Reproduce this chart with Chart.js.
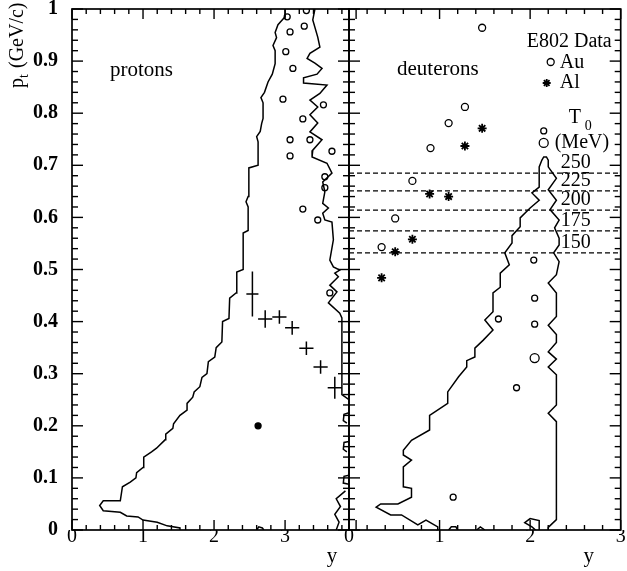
<!DOCTYPE html>
<html>
<head>
<meta charset="utf-8">
<script src="https://cdn.jsdelivr.net/npm/chart.js@4.4.1/dist/chart.umd.min.js"></script>
<style>
html, body { margin: 0; padding: 0; background: #fff; }
#wrap { position: relative; width: 627px; height: 571px; }
#wrap canvas { position: absolute; left: 0; top: 0; }
</style>
</head>
<body>
<div id="wrap">
  <canvas id="left" width="627" height="571"></canvas>
  <canvas id="right" width="627" height="571"></canvas>
</div>
<script>
// eixos
const ptTicks = [0, 0.1, 0.2, 0.3, 0.4, 0.5, 0.6, 0.7, 0.8, 0.9, 1];
const protonXTicks = [0, 1, 2, 3];
const deutXTicks = [0, 1, 2, 3];

// protons: contorno (lado esquerdo, de baixo para cima)
const protonEdgeLeft = [
  [1.52,0],[1.52,0.004],[1.34,0.008],[1.2,0.015],[1.0,0.019],[0.93,0.025],[0.77,0.027],
  [0.68,0.034],[0.44,0.037],[0.39,0.047],[0.44,0.056],[0.68,0.056],[0.71,0.083],[0.82,0.092],
  [0.9,0.1],[0.91,0.11],[1.0,0.12],[1.01,0.14],[1.12,0.15],[1.19,0.157],[1.31,0.173],
  [1.32,0.184],[1.42,0.195],[1.43,0.204],[1.52,0.22],[1.62,0.23],[1.62,0.243],[1.7,0.255],
  [1.72,0.265],[1.8,0.275],[1.83,0.293],[1.9,0.3],[1.92,0.323],[2.01,0.332],[2.03,0.35],
  [2.11,0.361],[2.12,0.4],[2.21,0.406],[2.22,0.445],[2.31,0.455],[2.32,0.495],[2.41,0.5],
  [2.41,0.57],[2.48,0.575],[2.48,0.62],[2.45,0.63],[2.48,0.64],[2.49,0.695],[2.62,0.7],
  [2.62,0.745],[2.6,0.755],[2.65,0.765],[2.67,0.78],[2.69,0.79],[2.69,0.82],[2.66,0.83],
  [2.71,0.84],[2.76,0.86],[2.82,0.875],[2.86,0.895],[2.86,0.92],[2.83,0.93],[2.88,0.945],
  [2.86,0.955],[2.9,0.97],[3.0,0.985],[3.0,1.0]
];
// protons: contorno (lado direito, de cima para baixo)
const protonEdgeRight = [
  [3.42,1.0],[3.39,0.979],[3.46,0.946],[3.49,0.927],[3.35,0.915],[3.31,0.905],[3.42,0.896],
  [3.52,0.886],[3.45,0.875],[3.26,0.868],[3.26,0.858],[3.59,0.854],[3.49,0.838],[3.35,0.825],
  [3.46,0.812],[3.35,0.797],[3.46,0.781],[3.35,0.764],[3.52,0.749],[3.39,0.729],[3.38,0.716],
  [3.59,0.704],[3.66,0.685],[3.53,0.668],[3.56,0.649],[3.53,0.627],[3.61,0.618],[3.53,0.608],
  [3.56,0.595],[3.66,0.591],[3.68,0.557],[3.63,0.518],[3.68,0.505],[3.77,0.499],[3.7,0.493],
  [3.75,0.486],[3.63,0.47],[3.73,0.457],[3.61,0.436],[3.77,0.416],[3.8,0.407],[3.8,0.26],[3.9,0.25]
];
// pedaços soltos do contorno perto do eixo (null = quebra)
const protonEdgeBits = [
  [3.9,0.225],[3.83,0.222],[3.82,0.21],[3.87,0.205], null,
  [3.9,0.17],[3.83,0.168],[3.82,0.155],[3.87,0.15], null,
  [3.9,0.105],[3.83,0.103],[3.82,0.09],[3.9,0.088], null,
  [3.85,0.075],[3.72,0.06],[3.78,0.045],[3.7,0.03],[3.76,0.015],[3.72,0], null,
  [2.6,0],[2.63,0.006],[2.68,0.004],[2.7,0]
];
const protonIslands = [
  [3.3,0.997],[3.03,0.985],[3.07,0.956],[3.27,0.967],[3.01,0.918],[3.11,0.886],[2.97,0.827],
  [3.25,0.789],[3.54,0.816],[3.07,0.749],[3.35,0.749],[3.07,0.718],[3.66,0.727],[3.56,0.678],
  [3.56,0.657],[3.25,0.616],[3.46,0.595],[3.63,0.455]
];
// dados de protons (cruzes com barras de erro)
const protonRap = [2.54, 2.72, 2.92, 3.1, 3.3, 3.5, 3.7];
const protonPt = [0.453, 0.405, 0.409, 0.388, 0.349, 0.313, 0.273];
const protonRapErr = [0.085, 0.1, 0.1, 0.1, 0.1, 0.1, 0.1];
const protonPtErr = [0.043, 0.017, 0.013, 0.013, 0.013, 0.013, 0.021];
const protonDot = [[2.62, 0.2]];

// deuterons: contorno
const deutEdge = [
  [0.98,0],[0.98,0.006],[0.85,0.019],[0.76,0.01],[0.58,0.029],[0.46,0.029],[0.3,0.044],
  [0.35,0.05],[0.54,0.05],[0.69,0.063],[0.69,0.08],[0.6,0.083],[0.6,0.121],[0.69,0.134],
  [0.6,0.144],[0.6,0.153],[0.69,0.172],[0.89,0.192],[0.89,0.22],[1.09,0.243],[1.09,0.265],
  [1.21,0.294],[1.3,0.313],[1.3,0.325],[1.39,0.332],[1.39,0.349],[1.48,0.364],[1.59,0.384],
  [1.5,0.403],[1.59,0.419],[1.59,0.455],[1.67,0.466],[1.67,0.493],[1.77,0.509],[1.72,0.532],
  [1.8,0.551],[1.8,0.565],[1.89,0.582],[1.89,0.599],[2.0,0.618],[2.1,0.633],[2.02,0.647],
  [2.1,0.658],[2.1,0.697],[2.13,0.71],[2.15,0.716],[2.18,0.716],[2.2,0.71],[2.2,0.697],
  [2.29,0.675],[2.2,0.653],[2.29,0.633],[2.22,0.615],[2.32,0.595],[2.27,0.58],[2.32,0.56],
  [2.32,0.547],[2.26,0.532],[2.32,0.515],[2.29,0.49],[2.2,0.474],[2.29,0.455],[2.29,0.41],
  [2.2,0.393],[2.29,0.375],[2.29,0.36],[2.2,0.342],[2.29,0.328],[2.2,0.313],[2.29,0.298],
  [2.29,0.24],[2.2,0.224],[2.29,0.208],[2.29,0.02],[2.2,0.005],[2.2,0]
];
const deutEdgeBits = [
  [1.1,0],[1.13,0.006],[1.18,0.006],[1.2,0], null,
  [1.41,0],[1.45,0.006],[1.5,0], null,
  [2.1,0],[2.1,0.018],[2.0,0.022],[1.94,0.014],[2.02,0.006],[2.06,0]
];
const deutIslands = [
  [2.15,0.766],[2.04,0.518],[2.05,0.445],[1.65,0.405],[2.05,0.395],[1.85,0.273],[1.15,0.063]
];
const deutIslandsBig = [[2.15,0.743],[2.05,0.33]];

// E802: Au e Al
const auRap = [0.36, 0.51, 0.7, 0.9, 1.1, 1.28, 1.47];
const auPt = [0.543, 0.598, 0.67, 0.733, 0.781, 0.812, 0.964];
const alRap = [0.36, 0.51, 0.7, 0.89, 1.1, 1.28, 1.47];
const alPt = [0.484, 0.534, 0.558, 0.645, 0.64, 0.737, 0.771];

// T0 (MeV) e pt correspondente das linhas tracejadas
const t0Labels = ['250', '225', '200', '175', '150'];
const t0Pt = [0.685, 0.651, 0.614, 0.574, 0.532];

const FONT = '"Liberation Serif", "Times New Roman", serif';
Chart.defaults.font.family = FONT;
Chart.defaults.color = '#000';

const toPts = arr => arr.map(p => p ? { x: p[0], y: p[1] } : { x: null, y: null });
const pairs = (xs, ys) => xs.map((v, i) => ({ x: v, y: ys[i] }));

function lineSet(data, extra) {
  return Object.assign({ data: data, showLine: true, pointRadius: 0, borderColor: '#000',
    borderWidth: 1.5, tension: 0, spanGaps: false }, extra || {});
}
function markSet(data, extra) {
  return Object.assign({ data: data, showLine: false, pointStyle: 'circle', pointRadius: 3,
    pointBorderColor: '#000', pointBackgroundColor: 'rgba(0,0,0,0)', pointBorderWidth: 1.3 }, extra || {});
}

// moldura e marcas de escala para dentro
const frameTicks = {
  id: 'frameTicks',
  afterDraw(chart) {
    const ctx = chart.ctx;
    const a = chart.chartArea;
    const sx = chart.scales.x, sy = chart.scales.y;
    const L = a.left, R = a.right, T = a.top, B = a.bottom;
    ctx.save();
    ctx.strokeStyle = '#000';
    ctx.lineWidth = 1.4;
    const seg = (x1, y1, x2, y2) => {
      ctx.beginPath();
      ctx.moveTo(x1, y1);
      ctx.lineTo(x2, y2);
      ctx.stroke();
    };
    const nx = Math.round(sx.max / 0.2);
    for (let i = 0; i <= nx; i++) {
      const px = sx.getPixelForValue(i * 0.2);
      const len = (i % 5 === 0) ? 10 : 5;
      seg(px, B, px, B - len);
      seg(px, T, px, T + len);
    }
    for (let j = 0; j <= 50; j++) {
      const py = sy.getPixelForValue(j * 0.02);
      const len = (j % 5 === 0) ? 11 : 6;
      seg(L, py, L + len, py);
      seg(R, py, R - len, py);
    }
    ctx.lineWidth = 1.7;
    ctx.strokeRect(L, T, R - L, B - T);
    ctx.restore();
  }
};

const protonDecor = {
  id: 'protonDecor',
  afterDatasetsDraw(chart) {
    const { ctx, chartArea: a, scales: { x, y } } = chart;
    ctx.save();
    ctx.strokeStyle = '#000';
    ctx.lineWidth = 1.5;
    ctx.beginPath();
    protonRap.forEach((r, i) => {
      const cx = x.getPixelForValue(r), cy = y.getPixelForValue(protonPt[i]);
      ctx.moveTo(x.getPixelForValue(r - protonRapErr[i]), cy);
      ctx.lineTo(x.getPixelForValue(r + protonRapErr[i]), cy);
      ctx.moveTo(cx, y.getPixelForValue(protonPt[i] - protonPtErr[i]));
      ctx.lineTo(cx, y.getPixelForValue(protonPt[i] + protonPtErr[i]));
    });
    ctx.stroke();

    ctx.fillStyle = '#000';
    ctx.font = '21px ' + FONT;
    ctx.textAlign = 'left';
    ctx.textBaseline = 'middle';
    ctx.fillText('protons', a.left + 38, a.top + 61);

    ctx.textAlign = 'center';
    ctx.textBaseline = 'alphabetic';
    ctx.fillText('y', a.right - 17, 562);

    // titulo do eixo y: p_t (GeV/c)
    ctx.translate(23, 88);
    ctx.rotate(-Math.PI / 2);
    ctx.textAlign = 'left';
    ctx.font = '20px ' + FONT;
    ctx.fillText('p', 0, 0);
    ctx.font = '14px ' + FONT;
    ctx.fillText('t', 10, 5);
    ctx.font = '20px ' + FONT;
    ctx.fillText('(GeV/c)', 20, 0);
    ctx.restore();
  }
};

const deutDecor = {
  id: 'deutDecor',
  afterDatasetsDraw(chart) {
    const { ctx, chartArea: a, scales: { x, y } } = chart;
    const R = a.right;
    ctx.save();
    ctx.fillStyle = '#000';
    ctx.strokeStyle = '#000';
    ctx.font = '21px ' + FONT;
    ctx.textBaseline = 'middle';
    ctx.textAlign = 'left';
    ctx.fillText('deuterons', a.left + 48, a.top + 60);

    ctx.font = '20px ' + FONT;
    ctx.textAlign = 'right';
    ctx.fillText('E802 Data', R - 9, 42);
    ctx.textAlign = 'left';
    ctx.fillText('Au', R - 61, 63);
    ctx.fillText('Al', R - 61, 83);
    ctx.lineWidth = 1.3;
    ctx.beginPath();
    ctx.arc(R - 70, 62, 3.5, 0, Math.PI * 2);
    ctx.stroke();
    ctx.lineWidth = 1.8;
    ctx.beginPath();
    for (let k = 0; k < 4; k++) {
      const ang = k * Math.PI / 4;
      ctx.moveTo(R - 74 + 4 * Math.cos(ang), 83 + 4 * Math.sin(ang));
      ctx.lineTo(R - 74 - 4 * Math.cos(ang), 83 - 4 * Math.sin(ang));
    }
    ctx.stroke();

    ctx.fillText('T', R - 52, 118);
    ctx.font = '14px ' + FONT;
    ctx.fillText('0', R - 36, 126);
    ctx.font = '20px ' + FONT;
    ctx.fillText('(MeV)', R - 66, 143);

    ctx.textAlign = 'center';
    t0Labels.forEach((lab, i) => {
      ctx.fillText(lab, R - 45, y.getPixelForValue(t0Pt[i]) - 10);
    });

    ctx.font = '21px ' + FONT;
    ctx.textBaseline = 'alphabetic';
    ctx.fillText('y', R - 32, 562);
    ctx.restore();
  }
};

function baseOptions(xMax, xTicks, padding, showY) {
  return {
    responsive: false,
    animation: false,
    devicePixelRatio: 1,
    events: [],
    layout: { padding: padding },
    plugins: { legend: { display: false }, tooltip: { enabled: false } },
    scales: {
      x: {
        type: 'linear', min: 0, max: xMax,
        grid: { display: false, drawTicks: false },
        border: { display: false },
        afterBuildTicks: s => { s.ticks = xTicks.map(v => ({ value: v })); },
        afterFit: s => { s.height = 41; s.paddingLeft = 0; s.paddingRight = 0; },
        ticks: { font: { size: 20 }, padding: -5, maxRotation: 0, autoSkip: false, callback: v => String(v) }
      },
      y: {
        type: 'linear', min: 0, max: 1, display: showY,
        grid: { display: false, drawTicks: false },
        border: { display: false },
        afterBuildTicks: s => { s.ticks = ptTicks.map(v => ({ value: v })); },
        afterFit: s => { if (showY) s.width = 72; s.paddingTop = 0; s.paddingBottom = 0; },
        ticks: { font: { size: 20, weight: 'bold' }, padding: 14, autoSkip: false, callback: v => String(v) }
      }
    }
  };
}

new Chart(document.getElementById('left'), {
  type: 'scatter',
  data: {
    datasets: [
      lineSet(toPts(protonEdgeLeft)),
      lineSet(toPts(protonEdgeRight)),
      lineSet(toPts(protonEdgeBits)),
      markSet(toPts(protonIslands)),
      markSet(toPts(protonDot), { pointBackgroundColor: '#000', pointRadius: 3 }),
      markSet(pairs(protonRap, protonPt), { pointRadius: 0 })
    ]
  },
  options: baseOptions(3.9, protonXTicks, { left: 0, top: 9, right: 278, bottom: 0 }, true),
  plugins: [frameTicks, protonDecor]
});

new Chart(document.getElementById('right'), {
  type: 'scatter',
  data: {
    datasets: [
      ...t0Pt.map(v => lineSet([{ x: 0, y: v }, { x: 3, y: v }], { borderWidth: 1.2, borderDash: [5, 3] })),
      lineSet(toPts(deutEdge)),
      lineSet(toPts(deutEdgeBits)),
      markSet(toPts(deutIslands)),
      markSet(toPts(deutIslandsBig), { pointRadius: 4.5 }),
      markSet(pairs(auRap, auPt), { pointRadius: 3.5 }),
      markSet(pairs(alRap, alPt), { pointStyle: 'star', pointRadius: 4.5, pointBorderWidth: 1.8 })
    ]
  },
  options: baseOptions(3, deutXTicks, { left: 349, top: 9, right: 2, bottom: 0 }, false),
  plugins: [frameTicks, deutDecor]
});
</script>
</body>
</html>
